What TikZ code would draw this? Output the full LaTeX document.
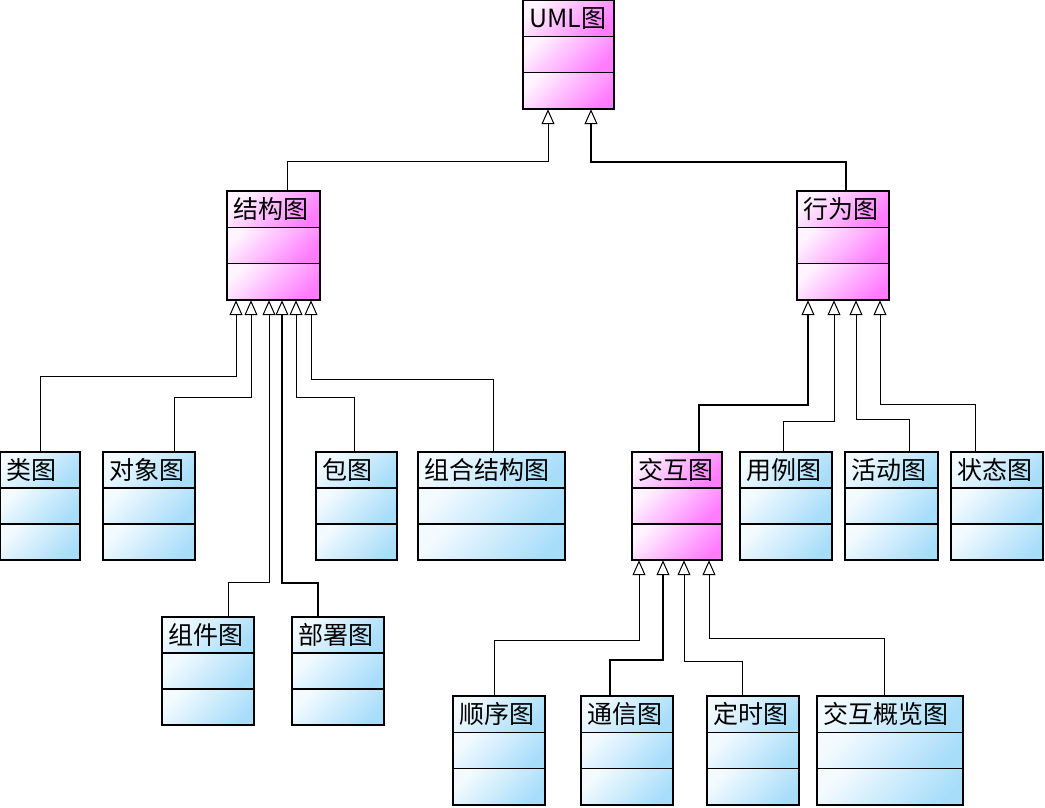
\documentclass[tikz,border=0pt]{standalone}
\usepackage{fontspec}
\newfontfamily\cjk{Noto Sans CJK SC}
\usetikzlibrary{arrows.meta,fit,shadings}
\definecolor{magA}{HTML}{FFF4FF}
\definecolor{magC}{HTML}{FF7CFF}
\definecolor{bluA}{HTML}{F4FBFF}
\definecolor{bluC}{HTML}{A8DDFA}
\tikzset{
  shm/.style={left color=magA, right color=magC, shading angle=45},
  shb/.style={left color=bluA, right color=bluC, shading angle=45},
  boxedge/.style={line width=1.4pt, draw=black},
  thickedge/.style={line width=2.2pt, draw=black},
  divider/.style={line width=1.5pt, draw=black},
  headtext/.style={anchor=west, inner sep=0pt, font=\cjk\fontsize{25}{25}\selectfont},
  genline/.style={draw=black, line width=1pt,
    -{Triangle[open, fill=white, width=13pt, length=15pt, line width=1pt]}},
  heavy/.style={line width=1.8pt}
}
% name, x1, y1, x2, y2 (y measured downward), text, palette style
\newcommand\umlcls[7]{%
  \pgfmathsetmacro\hh{(#5-#3)/3}%
  \pgfmathsetmacro\ya{-(#3)}%
  \pgfmathsetmacro\da{-(#3+\hh)}%
  \pgfmathsetmacro\db{-(#3+2*\hh)}%
  \pgfmathsetmacro\yb{-(#5)}%
  \pgfmathsetmacro\yt{-(#3+\hh/2)}%
  \shade[#7] (#2,\ya) rectangle (#4,\da);
  \shade[#7] (#2,\da) rectangle (#4,\db);
  \shade[#7] (#2,\db) rectangle (#4,\yb);
  \draw[boxedge] (#2,\ya) rectangle (#4,\yb);
  \draw[thickedge] (#2,\yb) -- (#4,\yb) -- (#4,\ya);
  \draw[divider] (#2,\da) -- (#4,\da);
  \draw[divider] (#2,\db) -- (#4,\db);
  \node[fit={(#2,\ya)(#4,\yb)}, inner sep=0pt] (#1) {};
  \node[headtext] (#1-t) at ({#2+6},\yt) {#6};
}
% child, child x, turn y (downward), parent x, parent, extra style
\newcommand\conn[6]{\draw[genline,#6] (#2,0 |- #1.north) |- (#4,-#3) -- (#4,0 |- #5.south);}
\begin{document}
\begin{tikzpicture}[x=1pt,y=1pt]
\useasboundingbox (0,0) rectangle (1045,-807);
\umlcls{uml}{523}{0}{614}{109}{UML图}{shm}
\umlcls{jg}{227}{191}{320}{300}{结构图}{shm}
\umlcls{xw}{797}{191}{889}{300}{行为图}{shm}
\umlcls{lei}{0}{452}{80}{560}{类图}{shb}
\umlcls{dx}{103}{452}{195}{560}{对象图}{shb}
\umlcls{bao}{316}{452}{397}{560}{包图}{shb}
\umlcls{zh}{418}{452}{565}{560}{组合结构图}{shb}
\umlcls{jh}{632}{452}{722}{560}{交互图}{shm}
\umlcls{yl}{740}{452}{832}{560}{用例图}{shb}
\umlcls{hd}{845}{452}{938}{560}{活动图}{shb}
\umlcls{zt}{951}{452}{1043}{560}{状态图}{shb}
\umlcls{zj}{162}{617}{254}{725}{组件图}{shb}
\umlcls{bs}{292}{617}{384}{725}{部署图}{shb}
\umlcls{sx}{453}{696}{545}{805}{顺序图}{shb}
\umlcls{tx}{581}{696}{673}{805}{通信图}{shb}
\umlcls{ds}{707}{696}{799}{805}{定时图}{shb}
\umlcls{gl}{817}{696}{963}{805}{交互概览图}{shb}
\conn{jg}{287}{161}{548}{uml}{}
\conn{xw}{846}{162}{591}{uml}{heavy}
\conn{lei}{40}{376}{236}{jg}{}
\conn{dx}{174}{397}{251}{jg}{}
\conn{zj}{228}{582}{269}{jg}{}
\conn{bs}{318}{583}{282}{jg}{heavy}
\conn{bao}{354}{397}{296}{jg}{}
\conn{zh}{493}{379}{311}{jg}{}
\conn{jh}{699}{405}{808}{xw}{heavy}
\conn{yl}{783}{421}{834}{xw}{}
\conn{hd}{909}{419}{856}{xw}{}
\conn{zt}{975}{404}{880}{xw}{}
\conn{sx}{494}{640}{639}{jh}{}
\conn{tx}{610}{660}{663}{jh}{heavy}
\conn{ds}{742}{661}{684}{jh}{}
\conn{gl}{884}{638}{709}{jh}{}
\end{tikzpicture}
\end{document}
